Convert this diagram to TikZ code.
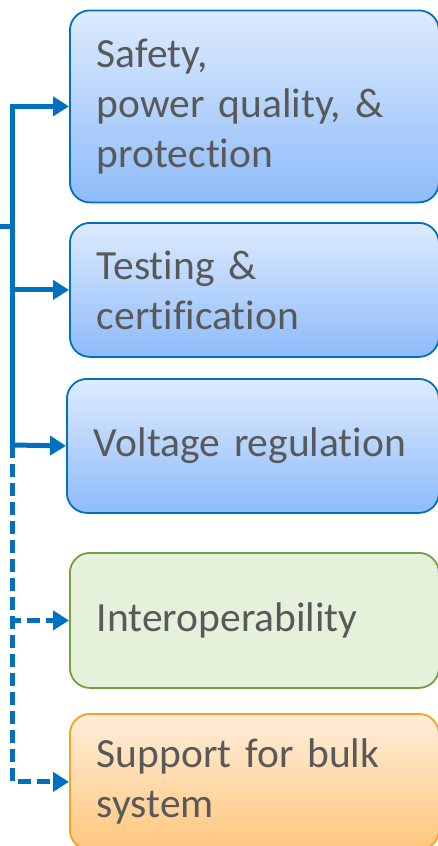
\documentclass[tikz,border=0pt]{standalone}
\usepackage{fontspec}
\setmainfont{Carlito}[Ligatures=NoCommon]
\usetikzlibrary{arrows.meta}

\definecolor{linkblue}{HTML}{0070C0}
\definecolor{bluetop}{HTML}{DDEBFE}
\definecolor{bluebot}{HTML}{8EBBFA}
\definecolor{greenfill}{HTML}{E5F1DA}
\definecolor{greenline}{HTML}{71A23B}
\definecolor{orangetop}{HTML}{FFEDDA}
\definecolor{orangebot}{HTML}{FFC77D}
\definecolor{orangeline}{HTML}{F5A21E}
\definecolor{labelgray}{HTML}{595959}

\tikzset{
  box/.style={rectangle, rounded corners=20pt, line width=1.8pt, anchor=north west,
    align=left, inner xsep=27pt, inner ysep=0pt, text=labelgray,
    font=\fontsize{41.5}{50}\selectfont},
  bluebox/.style={box, draw=linkblue, top color=bluetop, bottom color=bluebot},
  greenbox/.style={box, draw=greenline, fill=greenfill},
  orangebox/.style={box, draw=orangeline, top color=orangetop, bottom color=orangebot},
  conn/.style={draw=linkblue, line width=5pt},
  tip/.style={-{Triangle[length=16pt,width=19pt]}},
  dashline/.style={dash pattern=on 13pt off 6pt}
}

\begin{document}
\begin{tikzpicture}[x=1pt,y=-1pt]
  \useasboundingbox (0,0) rectangle (437,846);

  % category boxes
  \node[bluebox, minimum width=369pt, minimum height=192pt, text width=315pt]
    (b1) at (69,9.5) {Safety,\\power quality, \&\\protection};
  \node[bluebox, minimum width=369pt, minimum height=134pt, text width=315pt]
    (b2) at (69,222) {Testing \&\\certification};
  \node[bluebox, minimum width=372pt, minimum height=134pt, text width=318pt]
    (b3) at (66,378) {Voltage regulation};
  \node[greenbox, minimum width=369pt, minimum height=135pt, text width=315pt]
    (b4) at (69,552) {Interoperability};
  \node[orangebox, minimum width=369pt, minimum height=136pt, text width=315pt]
    (b5) at (69,713) {Support for bulk\\system};

  % trunk junctions
  \coordinate (feed) at (0,226);
  \coordinate (mid) at (12.5,445);

  % solid links
  \draw[conn] (feed) -- (feed -| mid);
  \draw[conn, tip] (mid) |- (b1.west);
  \draw[conn, tip] (feed -| mid) |- (b2.west);
  \draw[conn, tip] (mid) -- (b3.west);

  % dashed links
  \draw[conn, dashline, tip] (mid) |- (b4.west);
  \draw[conn, dashline, tip] (mid) |- (b5.west);
\end{tikzpicture}
\end{document}
